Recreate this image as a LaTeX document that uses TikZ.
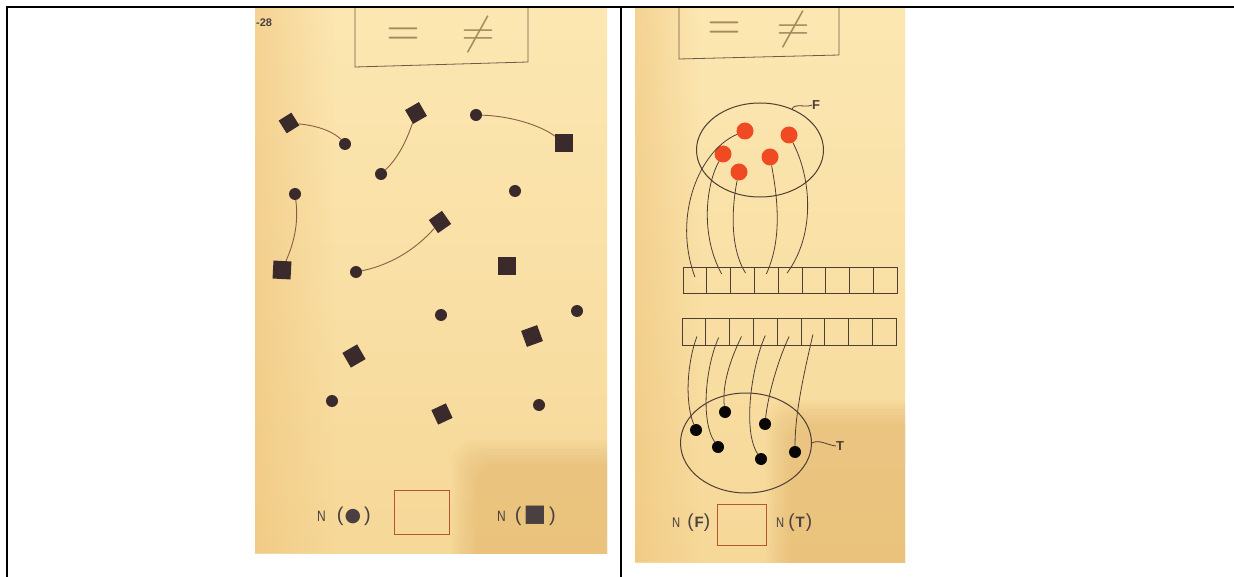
\documentclass[tikz,border=0pt]{standalone}
\usepackage{fontspec}
\usepackage{graphicx}
\usetikzlibrary{shapes.geometric,fadings}
\newfontfamily\lab{Liberation Sans}
\newfontfamily\symf{DejaVu Sans}
\definecolor{papertop}{HTML}{FCE7B2}
\definecolor{paperbot}{HTML}{F6D898}
\definecolor{paperedge}{HTML}{EDBF74}
\definecolor{shadowc}{HTML}{D9A050}
\definecolor{ink}{HTML}{3B2A2C}
\definecolor{linec}{HTML}{8A5E40}
\definecolor{wirec}{HTML}{4E3E34}
\definecolor{redc}{HTML}{F04A22}
\definecolor{boxc}{HTML}{B5562F}
\definecolor{symc}{HTML}{A48A5C}
\definecolor{framec}{HTML}{6E5A48}
\definecolor{numc}{HTML}{4A4042}
\newcommand{\narrowN}{\scalebox{0.8}[1]{N}}
\tikzset{
  dot/.style={circle, fill=ink, inner sep=0pt, minimum size=12pt},
  sqbox/.style={rectangle, fill=ink, inner sep=0pt, minimum size=16pt},
  link/.style={draw=linec, line width=0.9pt},
  wire/.style={draw=wirec, line width=0.8pt},
  reddot/.style={circle, fill=redc, inner sep=0pt, minimum size=17pt},
  blackdot/.style={circle, fill=black!85!ink, inner sep=0pt, minimum size=12pt},
  cell/.style={draw=wirec, rectangle, minimum width=23.8pt, minimum height=26pt, inner sep=0pt, line width=0.7pt},
  setell/.style={ellipse, draw=wirec, line width=1pt, inner sep=0pt},
  symtxt/.style={text=symc, inner sep=0pt},
  lbl/.style={inner sep=0pt, anchor=base west, text=numc, font=\lab},
  ansbox/.style={draw=boxc, line width=0.8pt, rectangle, inner sep=0pt},
  rule/.style={line width=2.2pt, black}
}
\begin{document}
\begin{tikzpicture}[x=1pt,y=-1pt]
\useasboundingbox[fill=white] (0,0) rectangle (1234,577);

% ---------- left photo ----------
\begin{scope}
\clip (255,8) rectangle (607,553);
\shade[top color=papertop, bottom color=paperbot] (255,8) rectangle (607,553);
\fill[paperedge, path fading=east, opacity=0.5] (255,8) rectangle (335,553);
\foreach \o in {0,3,...,24}
  \fill[shadowc, opacity=0.045, rounded corners=22pt] (452+\o,440+\o) rectangle (640,600);
\draw[framec, line width=0.8pt] (355,0) -- (355,67) -- (528,62) -- (528,0);
\node[symtxt] (eqL) at (403,37) {\scalebox{4.3}[4.8]{$=$}};
\node[symtxt] (neqL) at (478,35) {\scalebox{4.3}[4.0]{$\neq$}};
\node[lbl, font=\lab\bfseries\fontsize{11}{11}\selectfont] (pg) at (256,27) {-28};

\node[sqbox, minimum size=15pt, rotate=32] (s1) at (289,123) {};
\node[sqbox, rotate=30] (s2) at (416,113) {};
\node[sqbox, minimum size=18pt] (s3) at (564,143) {};
\node[sqbox, minimum size=18pt, rotate=-3] (s4) at (282,270) {};
\node[sqbox, rotate=35] (s5) at (440,222) {};
\node[sqbox, minimum size=18pt] (s6) at (507,266) {};
\node[sqbox, minimum size=17pt, rotate=20] (s7) at (532,336) {};
\node[sqbox, minimum size=17pt, rotate=30] (s8) at (354,356) {};
\node[sqbox, rotate=25] (s9) at (442,414) {};

\node[dot] (c1) at (345,144) {};
\node[dot] (c2) at (381,174) {};
\node[dot] (c3) at (476,115) {};
\node[dot] (c4) at (295,194) {};
\node[dot] (c5) at (515,191) {};
\node[dot] (c6) at (356,272) {};
\node[dot] (c7) at (441,315) {};
\node[dot] (c8) at (577,311) {};
\node[dot] (c9) at (332,401) {};
\node[dot] (c10) at (539,405) {};

\draw[link] (s1) .. controls (322,126) and (336,134) .. (c1);
\draw[link] (s2) .. controls (405,145) and (396,160) .. (c2);
\draw[link] (c3) .. controls (510,116) and (540,125) .. (s3);
\draw[link] (c4) .. controls (299,225) and (293,245) .. (s4);
\draw[link] (c6) .. controls (390,265) and (415,250) .. (s5);

\node[lbl, font=\lab\fontsize{20}{20}\selectfont] (nc) at (317,521) {{\fontsize{15}{15}\selectfont\narrowN}\hspace{11pt}(\hspace{1pt}{\symf\fontsize{19}{19}\selectfont ●}\hspace{3pt})};
\node[ansbox, minimum width=55pt, minimum height=44pt] (boxL) at (422,512) {};
\node[lbl, font=\lab\fontsize{20}{20}\selectfont] (ns) at (497,521) {{\fontsize{15}{15}\selectfont\narrowN}\hspace{9pt}(\hspace{2pt}{\symf\fontsize{24}{24}\selectfont ■}\hspace{3pt})};
\end{scope}

% ---------- right photo ----------
\begin{scope}
\clip (635,8) rectangle (905,562);
\shade[top color=papertop, bottom color=paperbot] (635,8) rectangle (905,562);
\fill[paperedge, path fading=east, opacity=0.5] (635,8) rectangle (700,562);
\foreach \o in {0,3,...,24}
  \fill[shadowc, opacity=0.045, rounded corners=22pt] (766+\o,400+\o) rectangle (940,600);
\draw[framec, line width=0.8pt] (679,0) -- (679,59) -- (839,55) -- (839,0);
\node[symtxt] (eqR) at (724,31) {\scalebox{4.3}[4.8]{$=$}};
\node[symtxt] (neqR) at (793,30) {\scalebox{4.3}[4.0]{$\neq$}};

\node[setell, minimum width=127pt, minimum height=94pt] (F) at (760,150) {};
\node[inner sep=0pt, font=\lab\bfseries\fontsize{13}{13}\selectfont, text=wirec, anchor=west] (Fl) at (812,105) {F};
\draw[wire] (F.52) .. controls +(2,-6) and +(-5,3) .. (Fl.west);

\node[reddot] (r1) at (745,131) {};
\node[reddot] (r2) at (789,135) {};
\node[reddot] (r3) at (723,154) {};
\node[reddot] (r4) at (770,157) {};
\node[reddot] (r5) at (739,172) {};

\foreach \i in {1,...,9} {
  \node[cell] (t\i) at ({683+11.9+(\i-1)*23.8},280) {};
  \node[cell, minimum height=27pt] (b\i) at ({682+11.9+(\i-1)*23.8},331.5) {};
}

\draw[wire] (r1) .. controls (700,150) and (672,215) .. ([yshift=3pt]t1.center);
\draw[wire] (r3) .. controls (706,185) and (700,235) .. ([xshift=3pt,yshift=6pt]t2.center);
\draw[wire] (r5) .. controls (733,200) and (728,245) .. ([xshift=3pt,yshift=7pt]t3.center);
\draw[wire] (r4) .. controls (778,200) and (782,240) .. ([yshift=6pt]t4.center);
\draw[wire] (r2) .. controls (812,180) and (815,235) .. ([xshift=-3pt,yshift=7pt]t5.center);

\node[setell, minimum width=131pt, minimum height=100pt] (T) at (746,443) {};
\node[inner sep=0pt, font=\lab\bfseries\fontsize{13}{13}\selectfont, text=wirec, anchor=west] (Tl) at (836,446) {T};
\draw[wire] (T.east) .. controls +(7,-4) and +(-9,-1) .. (Tl.west);

\node[blackdot] (k1) at (696,430) {};
\node[blackdot] (k2) at (725,412) {};
\node[blackdot] (k3) at (718,447) {};
\node[blackdot] (k4) at (765,424) {};
\node[blackdot] (k5) at (761,459) {};
\node[blackdot] (k6) at (795,452) {};

\draw[wire] ([xshift=3pt,yshift=-5pt]b1.center) .. controls (688,360) and (684,400) .. (k1);
\draw[wire] ([xshift=1pt,yshift=-6pt]b2.center) .. controls (706,365) and (700,420) .. (k3);
\draw[wire] ([yshift=-5pt]b3.center) .. controls (730,360) and (722,385) .. (k2);
\draw[wire] ([yshift=-4pt]b4.center) .. controls (752,365) and (742,430) .. (k5);
\draw[wire] ([yshift=-5pt]b5.center) .. controls (778,360) and (768,395) .. (k4);
\draw[wire] ([yshift=-3pt]b6.center) .. controls (806,365) and (795,410) .. (k6);

\node[lbl, font=\lab\fontsize{19}{19}\selectfont] (nF) at (672,527) {{\fontsize{14}{14}\selectfont\narrowN}\hspace{7pt}(\hspace{1pt}{\bfseries\fontsize{15}{15}\selectfont F})};
\node[ansbox, minimum width=49pt, minimum height=41pt] (boxR) at (741.5,525) {};
\node[lbl, font=\lab\fontsize{19}{19}\selectfont] (nT) at (776,527) {{\fontsize{14}{14}\selectfont\narrowN}\hspace{4pt}(\hspace{1pt}{\bfseries\fontsize{15}{15}\selectfont T}\hspace{1pt})};
\end{scope}

% ---------- table rules ----------
\draw[rule] (7,7) -- (1234,7);
\draw[rule] (7,6) -- (7,577);
\draw[rule] (621,6) -- (621,577);
\end{tikzpicture}
\end{document}
